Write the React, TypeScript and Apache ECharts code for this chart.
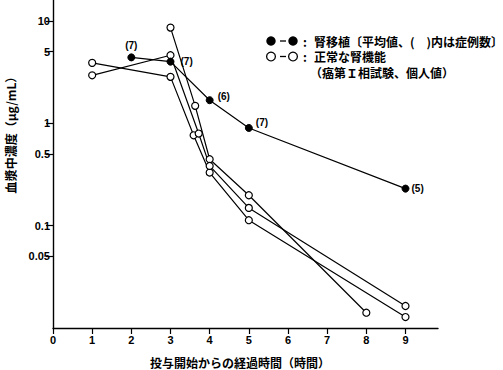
import React, { useEffect, useRef } from "react";
import * as echarts from "echarts";

// ---- data ----
const xTicks = [0, 1, 2, 3, 4, 5, 6, 7, 8, 9];
const yTicks = [0.05, 0.1, 0.5, 1, 5, 10];

// 腎移植 (mean values, number of cases in parentheses)
const transplantX = [2, 3, 4, 5, 9];
const transplantY = [4.4, 4.0, 1.68, 0.9, 0.23];
const transplantN = ["(7)", "(7)", "(6)", "(7)", "(5)"];

// 正常な腎機能 (individual values)
const subjectAX = [3, 3.63, 4, 5, 8];
const subjectAY = [8.6, 1.48, 0.445, 0.198, 0.0141];
const subjectBX = [1, 3, 3.59, 4, 5, 9];
const subjectBY = [3.89, 2.84, 0.763, 0.33, 0.113, 0.0128];
const subjectCX = [1, 3, 3.72, 4, 5, 9];
const subjectCY = [2.94, 4.62, 0.794, 0.383, 0.149, 0.0164];

const legendRow1 = "腎移植〔平均値、(　)内は症例数〕";
const legendRow2 = "正常な腎機能";
const legendRow3 = "（癌第Ｉ相試験、個人値）";
const xName = "投与開始からの経過時間（時間）";
const yName = "血漿中濃度（μg/mL）";

const CJK = '"Noto Sans CJK JP", sans-serif';
const LAT = '"Liberation Sans", Arial, sans-serif';

const pairs = (xs: number[], ys: number[]) => xs.map((x, i) => [x, ys[i]]);

const labelOffsets: Array<{ position: string; distance: number; offset: number[] }> = [
  { position: "top", distance: 3, offset: [0, 0] },
  { position: "right", distance: 6, offset: [0, 0] },
  { position: "right", distance: 4, offset: [0, -4] },
  { position: "right", distance: 3, offset: [0, -5] },
  { position: "right", distance: 2, offset: [0, 0] },
];

export default function App() {
  const ref = useRef<HTMLDivElement>(null);
  useEffect(() => {
    if (!ref.current) return;
    const chart = echarts.init(ref.current, undefined, { renderer: "svg" });

    const openSeries = (data: number[][]) => ({
      type: "line",
      data,
      symbol: "circle",
      symbolSize: 7,
      lineStyle: { color: "#000", width: 1.2 },
      itemStyle: { color: "#fff", borderColor: "#000", borderWidth: 1.2 },
      emphasis: { disabled: true },
    });

    const filledData = transplantX.map((x, i) => ({
      value: [x, transplantY[i]],
      label: {
        show: true,
        formatter: transplantN[i],
        position: labelOffsets[i].position,
        distance: labelOffsets[i].distance,
        offset: labelOffsets[i].offset,
        color: "#000",
        fontSize: 10,
        fontWeight: "bold",
        fontFamily: LAT,
      },
    }));

    const LH = 15.5;
    const legendY = [41, 41 + LH];
    const font12 = `bold 12px ${CJK}`;
    const txt = (x: number, y: number, text: string, align = "left") => ({
      type: "text",
      x,
      y,
      style: { text, font: font12, fill: "#000", align, verticalAlign: "middle" },
    });
    const option: any = {
      animation: false,
      backgroundColor: "#fff",
      grid: { left: 53, top: 0, width: 385, height: 328, containLabel: false },
      xAxis: {
        type: "value",
        min: 0,
        max: 9.83,
        interval: 1,
        axisLine: { show: true, lineStyle: { color: "#000", width: 1.4 } },
        axisTick: { show: true, length: 6, customValues: xTicks, lineStyle: { color: "#000", width: 1.2 } },
        axisLabel: {
          customValues: xTicks,
          color: "#000",
          fontSize: 11,
          fontWeight: "bold",
          fontFamily: LAT,
          margin: 6,
          formatter: (v: number) => String(v),
        },
        splitLine: { show: false },
      },
      yAxis: {
        type: "log",
        logBase: 10,
        min: 0.01,
        max: 16,
        axisLine: { show: true, lineStyle: { color: "#000", width: 1.4 } },
        axisTick: { show: true, length: 7, customValues: yTicks, lineStyle: { color: "#000", width: 1.2 } },
        minorTick: { show: false },
        axisLabel: {
          customValues: yTicks,
          color: "#000",
          fontSize: 11,
          fontWeight: "bold",
          fontFamily: LAT,
          margin: 3,
          formatter: (v: number) => String(v),
        },
        splitLine: { show: false },
      },
      series: [
        openSeries(pairs(subjectAX, subjectAY)),
        openSeries(pairs(subjectBX, subjectBY)),
        openSeries(pairs(subjectCX, subjectCY)),
        {
          type: "line",
          data: filledData,
          symbol: "circle",
          symbolSize: 7,
          lineStyle: { color: "#000", width: 1.2 },
          itemStyle: { color: "#000", borderColor: "#000", borderWidth: 1 },
          emphasis: { disabled: true },
        },
      ],
      graphic: [
        // legend row 1 (filled)
        { type: "circle", shape: { cx: 271, cy: legendY[0], r: 4.7 }, style: { fill: "#000" } },
        { type: "line", shape: { x1: 280, y1: legendY[0], x2: 286, y2: legendY[0] }, style: { stroke: "#000", lineWidth: 1.3 } },
        { type: "circle", shape: { cx: 293, cy: legendY[0], r: 4.7 }, style: { fill: "#000" } },
        // legend row 2 (open)
        { type: "circle", shape: { cx: 271, cy: legendY[1], r: 4.4 }, style: { fill: "#fff", stroke: "#000", lineWidth: 1.3 } },
        { type: "line", shape: { x1: 280, y1: legendY[1], x2: 286, y2: legendY[1] }, style: { stroke: "#000", lineWidth: 1.3 } },
        { type: "circle", shape: { cx: 293, cy: legendY[1], r: 4.4 }, style: { fill: "#fff", stroke: "#000", lineWidth: 1.3 } },
        // colons
        {
          type: "text",
          x: 305,
          y: legendY[0] - LH / 2,
          style: {
            text: ":\n:",
            font: font12,
            lineHeight: LH,
            fill: "#000",
            align: "center",
            verticalAlign: "top",
          },
        },
        // legend text block
        {
          type: "text",
          x: 310,
          y: legendY[0] - LH / 2,
          style: {
            text: `{s| }{a|${legendRow1}}\n{s| }{a|${legendRow2}}\n{a|${legendRow3}}`,
            font: font12,
            lineHeight: LH,
            fill: "#000",
            align: "left",
            verticalAlign: "top",
            rich: {
              s: { width: 4, font: font12, lineHeight: LH },
              a: { font: font12, lineHeight: LH, fill: "#000" },
            },
          },
        },
        // axis names
        txt(240, 362, xName, "center"),
        { ...txt(10, 132, yName, "center"), rotation: Math.PI / 2 },
      ],
    };
    chart.setOption(option);
    return () => chart.dispose();
  }, []);

  return (
    <div
      ref={ref}
      style={{ position: "fixed", left: 0, top: 0, width: 503, height: 370, background: "#fff" }}
    />
  );
}
